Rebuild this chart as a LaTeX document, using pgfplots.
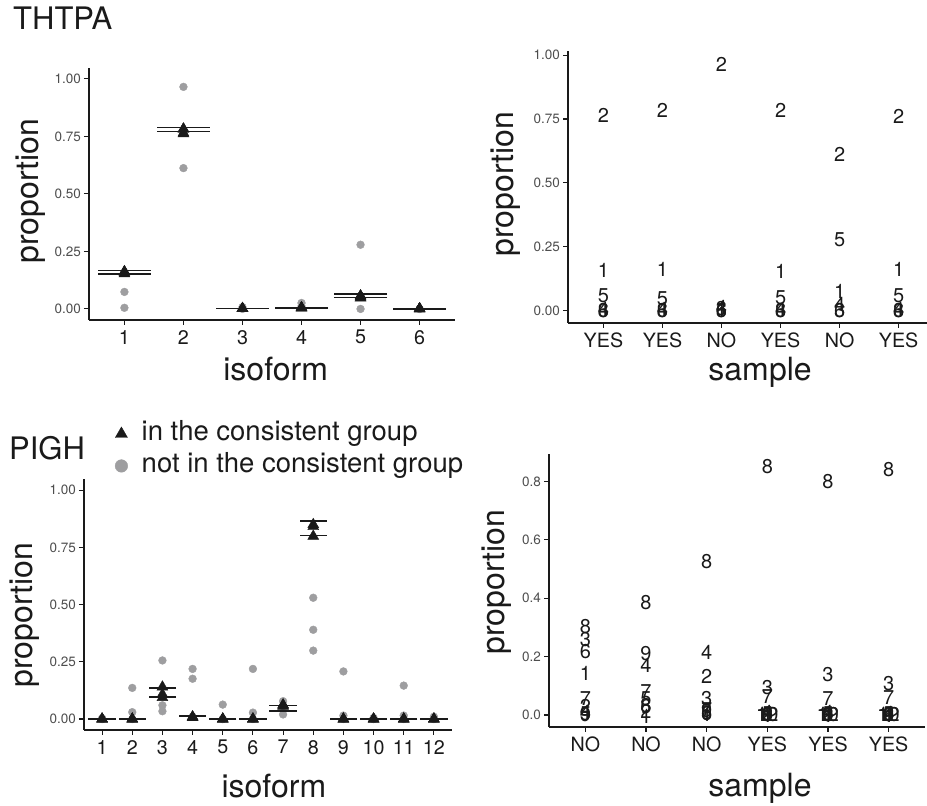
\documentclass[border=0pt]{standalone}
\usepackage{fontspec}
\setmainfont{TeX Gyre Heros}
\usepackage{pgfplots}
\pgfplotsset{compat=1.18}

\definecolor{ink}{RGB}{26,26,26}
\definecolor{tickgrey}{RGB}{77,77,77}
\definecolor{dotgrey}{RGB}{158,158,160}
\newcommand{\fs}[1]{\fontsize{#1pt}{#1pt}\selectfont}

\pgfplotsset{
  gg/.style={
    scale only axis, clip=false,
    axis lines=left,
    axis line style={-, line width=1.1pt, draw=ink},
    tick align=outside,
    major tick length=5pt,
    tick style={line width=1.1pt, draw=ink},
    /pgf/number format/assume math mode=true,
    yticklabel style={font=\fs{13.5}, text=tickgrey, inner sep=0pt, xshift=-3pt,
      /pgf/number format/fixed, /pgf/number format/fixed zerofill,
      /pgf/number format/precision=2},
    xticklabel style={font=\fs{19.7}, text=ink, inner sep=0pt, yshift=-5pt},
    xlabel style={font=\fs{32}, text=ink, anchor=base},
    ylabel style={font=\fs{32}, text=ink, anchor=center},
  },
  greydot/.style={only marks, mark=*, mark size=3.9pt, dotgrey},
  tri/.style={only marks, mark=triangle*, mark size=6.3pt, ink},
  hbar/.style={only marks, mark=-, line width=1.5pt, ink},
  lbl/.style={only marks, mark=text, text mark={#1}, text mark as node=true,
    text mark style={font=\fs{20}, text=ink, inner sep=0pt}},
}

\begin{document}
\begin{tikzpicture}
\path[use as bounding box] (0,0) rectangle (927pt,806pt);

% THTPA, by isoform
\begin{axis}[gg, at={(89pt,486pt)}, anchor=south west,
  width=366pt, height=252pt,
  xmin=0.4, xmax=6.6, ymin=-0.048, ymax=1.047,
  xtick={1,...,6}, ytick={0,0.25,0.5,0.75,1},
  xlabel={isoform}, ylabel={proportion},
  xlabel style={at={(axis description cs:0.51,-0.242)}},
  ylabel style={at={(axis description cs:-0.158,0.512)}},
]
\addplot[greydot] coordinates {
  (1,0.005) (1,0.074) (2,0.965) (2,0.612) (3,0.008) (3,0.000)
  (4,0.012) (4,0.026) (5,0.000) (5,0.279) (6,0.000) (6,0.000)};
\addplot[tri] coordinates {
  (1,0.159) (1,0.162) (1,0.153) (1,0.162)
  (2,0.765) (2,0.782) (2,0.782) (2,0.761)
  (3,0.002) (3,0.002) (3,0.002) (3,0.002)
  (4,0.005) (4,0.004) (4,0.006) (4,0.005)
  (5,0.057) (5,0.048) (5,0.052) (5,0.057)
  (6,0.001) (6,0.001) (6,0.001) (6,0.001)};
\addplot[hbar, mark size=26.5pt] coordinates {
  (1,0.167) (1,0.151) (2,0.788) (2,0.770) (3,0.003) (3,0.001)
  (4,0.006) (4,0.002) (5,0.065) (5,0.049) (6,0.001) (6,0.000)};
\end{axis}

% THTPA, by sample
\begin{axis}[gg, at={(568pt,483pt)}, anchor=south west,
  width=359pt, height=272pt,
  xmin=0.4, xmax=6.48, ymin=-0.048, ymax=1.016,
  xtick={1,...,6}, xticklabels={YES,YES,NO,YES,NO,YES},
  ytick={0,0.25,0.5,0.75,1},
  xlabel={sample}, ylabel={proportion},
  xlabel style={at={(axis description cs:0.535,-0.213)}},
  ylabel style={at={(axis description cs:-0.173,0.511)}},
]
\addplot[lbl=6] coordinates {(1,0.001) (2,0.001) (3,0.000) (4,0.001) (5,0.000) (6,0.001)};
\addplot[lbl=3] coordinates {(1,0.002) (2,0.002) (3,0.008) (4,0.002) (5,0.000) (6,0.002)};
\addplot[lbl=4] coordinates {(1,0.005) (2,0.005) (3,0.012) (4,0.005) (5,0.026) (6,0.005)};
\addplot[lbl=5] coordinates {(1,0.057) (2,0.048) (3,0.000) (4,0.052) (5,0.279) (6,0.057)};
\addplot[lbl=1] coordinates {(1,0.159) (2,0.162) (3,0.005) (4,0.153) (5,0.074) (6,0.162)};
\addplot[lbl=2] coordinates {(1,0.765) (2,0.782) (3,0.965) (4,0.782) (5,0.612) (6,0.761)};
\end{axis}

% PIGH, by isoform
\begin{axis}[gg, at={(84pt,76pt)}, anchor=south west,
  width=368pt, height=251pt,
  xmin=0.4, xmax=12.6, ymin=-0.048, ymax=1.049,
  xtick={1,...,12}, ytick={0,0.25,0.5,0.75,1},
  xlabel={isoform}, ylabel={proportion},
  xlabel style={at={(axis description cs:0.516,-0.267)}},
  ylabel style={at={(axis description cs:-0.160,0.458)}},
  legend style={at={(axis description cs:0.084,1.232)}, anchor=north west,
    draw=none, fill=none, font=\fs{27.5}, text=ink, inner sep=0pt,
    row sep=6pt, column sep=14pt,
    nodes={inner sep=0pt, text height=20pt, text depth=6pt}},
  legend cell align=left,
  legend image code/.code={\draw[#1] plot coordinates {(0pt,0pt)};},
]
\addlegendimage{only marks, mark=triangle*, mark size=7pt, ink}
\addlegendentry{in the consistent group}
\addlegendimage{only marks, mark=*, mark size=6.3pt, dotgrey}
\addlegendentry{not in the consistent group}
\addplot[greydot, forget plot] coordinates {
  (1,0.003) (1,0.000) (1,0.000)
  (2,0.136) (2,0.030) (2,0.000)
  (3,0.256) (3,0.060) (3,0.034)
  (4,0.219) (4,0.176) (4,0.010)
  (5,0.063) (5,0.000) (5,0.000)
  (6,0.219) (6,0.028) (6,0.000)
  (7,0.078) (7,0.056) (7,0.020)
  (8,0.530) (8,0.390) (8,0.299)
  (9,0.208) (9,0.015) (9,0.000)
  (10,0.005) (10,0.000) (10,0.000)
  (11,0.146) (11,0.015) (11,0.000)
  (12,0.010) (12,0.000) (12,0.000)};
\addplot[tri, forget plot] coordinates {
  (1,0) (1,0) (1,0) (2,0) (2,0) (2,0)
  (3,0.094) (3,0.140) (3,0.108)
  (4,0.010) (4,0.008) (4,0.006)
  (5,0) (5,0) (5,0) (6,0) (6,0) (6,0)
  (7,0.062) (7,0.056) (7,0.060)
  (8,0.850) (8,0.799) (8,0.841)
  (9,0) (9,0) (9,0) (10,0) (10,0) (10,0)
  (11,0) (11,0) (11,0) (12,0) (12,0) (12,0)};
\addplot[hbar, mark size=13.6pt, forget plot] coordinates {
  (1,0) (2,0) (3,0.135) (3,0.097) (4,0.015) (4,0.010) (5,0) (6,0)
  (7,0.059) (7,0.034) (8,0.865) (8,0.801) (9,0) (10,0) (11,0) (12,0)};
\end{axis}

% PIGH, by sample
\begin{axis}[gg, at={(549pt,79pt)}, anchor=south west,
  width=376pt, height=273pt,
  xmin=0.4, xmax=6.6, ymin=-0.041, ymax=0.894,
  xtick={1,...,6}, xticklabels={NO,NO,NO,YES,YES,YES},
  ytick={0,0.2,0.4,0.6,0.8},
  yticklabel style={/pgf/number format/precision=1},
  xlabel={sample}, ylabel={proportion},
  xlabel style={at={(axis description cs:0.561,-0.256)}},
  ylabel style={at={(axis description cs:-0.138,0.531)}},
]
\addplot[lbl=10] coordinates {(4,0.000) (5,0.000) (6,0.000)};
\addplot[lbl=12] coordinates {(4,0.002) (5,0.001) (6,0.002)};
\addplot[lbl=5] coordinates {(1,0.005) (2,0.055) (3,0.008) (4,0.004) (5,0.003) (6,0.004)};
\addplot[lbl=2] coordinates {(1,0.030) (2,0.012) (3,0.133) (4,0.003) (5,0.002) (6,0.003)};
\addplot[lbl=9] coordinates {(1,0.000) (2,0.210) (3,0.015) (4,0.001) (5,0.000) (6,0.001)};
\addplot[lbl=6] coordinates {(1,0.216) (2,0.028) (3,0.004) (4,0.002) (5,0.001) (6,0.002)};
\addplot[lbl=4] coordinates {(1,0.010) (2,0.170) (3,0.213) (4,0.010) (5,0.008) (6,0.006)};
\addplot[lbl=1] coordinates {(1,0.142) (2,-0.004) (3,0.003) (4,0.000) (5,0.000) (6,0.000)};
\addplot[lbl=7] coordinates {(1,0.056) (2,0.079) (3,0.020) (4,0.062) (5,0.056) (6,0.060)};
\addplot[lbl=3] coordinates {(1,0.258) (2,0.034) (3,0.055) (4,0.094) (5,0.140) (6,0.108)};
\addplot[lbl=8] coordinates {(1,0.302) (2,0.385) (3,0.525) (4,0.850) (5,0.799) (6,0.841)};
\end{axis}

\node[anchor=base west, inner sep=0pt, font=\fs{31}, text=ink] at (13pt,776.7pt) {THTPA};
\node[anchor=base west, inner sep=0pt, font=\fs{31}, text=ink] at (9pt,346pt) {PIGH};
\end{tikzpicture}
\end{document}
